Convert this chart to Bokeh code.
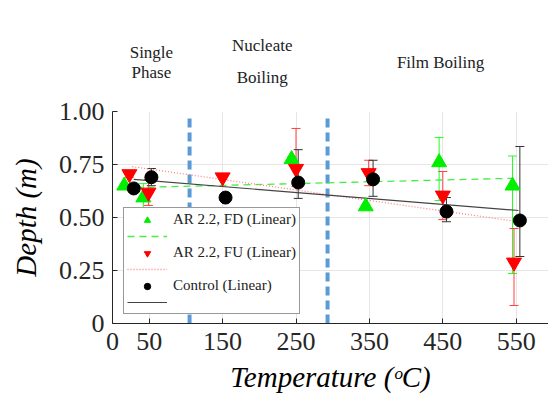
from bokeh.plotting import figure
from bokeh.layouts import column
from bokeh.models import (Range1d, FixedTicker, Whisker, TeeHead, ColumnDataSource,
                          Legend, LegendItem)
from bokeh.core.properties import value
from bokeh.embed import file_html
from bokeh.resources import INLINE

# ---------------- data ----------------
fd_t = [16, 42, 244, 345, 445, 545]
fd_d = [0.65, 0.594, 0.775, 0.552, 0.76, 0.65]
fd_lo = [0.64, 0.52, 0.765, 0.545, 0.58, 0.236]
fd_hi = [0.66, 0.66, 0.785, 0.56, 0.877, 0.79]

fu_t = [23, 49, 150, 250, 349, 450, 547]
fu_d = [0.705, 0.618, 0.69, 0.73, 0.71, 0.604, 0.288]
fu_lo = [0.69, 0.557, 0.68, 0.646, 0.65, 0.49, 0.085]
fu_hi = [0.72, 0.68, 0.70, 0.92, 0.77, 0.717, 0.448]

ctrl_t = [29, 53, 154, 253, 355, 455, 555]
ctrl_d = [0.637, 0.69, 0.594, 0.665, 0.68, 0.528, 0.486]
ctrl_lo = [0.63, 0.65, 0.59, 0.59, 0.60, 0.48, 0.316]
ctrl_hi = [0.645, 0.731, 0.60, 0.82, 0.77, 0.594, 0.835]

fd_fit_t = [15, 545]
fd_fit_d = [0.64, 0.685]
fu_fit_t = [27, 553]
fu_fit_d = [0.74, 0.48]
ctrl_fit_t = [29, 553]
ctrl_fit_d = [0.68, 0.533]

regime_bounds = [105, 293]
regime_top = 0.98

x_ticks = [0, 50, 150, 250, 350, 450, 550]
y_ticks = [0, 0.25, 0.5, 0.75, 1.0]
y_tick_labels = ["0", "0.25", "0.50", "0.75", "1.00"]

regime_text = ["Single", "Phase", "Nucleate", "Boiling", "Film Boiling"]
regime_x = [53, 53, 204, 204, 447]
regime_y = [44, 24, 51, 19, 34]

SERIF = "Liberation Serif"
GREEN = "#00ee00"
RED = "#ff0000"
BLUE = "#5b9bd5"

TOP_H = 96

p = figure(width=548, height=405 - TOP_H, output_backend="svg", toolbar_location=None,
           x_range=Range1d(0, 594), y_range=Range1d(0, 1.0),
           min_border_left=112, min_border_right=0, min_border_top=111 - TOP_H,
           min_border_bottom=82)
p.outline_line_color = None
p.background_fill_color = "white"

# axes
p.xaxis.ticker = FixedTicker(ticks=x_ticks)
p.yaxis.ticker = FixedTicker(ticks=y_ticks)
p.yaxis.major_label_overrides = {t: l for t, l in zip(y_ticks, y_tick_labels)}
for ax in (p.xaxis[0], p.yaxis[0]):
    ax.major_label_text_font = SERIF
    ax.major_label_text_font_size = "26px"
    ax.major_label_text_color = "#262626"
    ax.axis_label_text_font = SERIF
    ax.axis_label_text_font_style = "italic"
    ax.axis_label_text_color = "black"
    ax.major_tick_in = 5
    ax.major_tick_out = 0
    ax.minor_tick_line_color = None
    ax.axis_line_color = "#262626"
    ax.major_tick_line_color = "#262626"
p.xaxis.axis_label = "Temperature (ᵒC)"
p.yaxis.axis_label = "Depth (m)"
p.xaxis.axis_label_text_font_size = "29px"
p.yaxis.axis_label_text_font_size = "29px"
p.xaxis.major_label_standoff = 9
p.yaxis.major_label_standoff = 8
p.xaxis.axis_label_standoff = 8
p.yaxis.axis_label_standoff = 14
p.grid.grid_line_color = "#e6e6e6"
p.grid.grid_line_width = 1

# regime boundaries
for xb in regime_bounds:
    p.line([xb, xb], [0, regime_top], line_color=BLUE, line_width=4, line_dash="9 5")

# error bars
def add_err(t, lo, hi, color):
    src = ColumnDataSource(dict(x=t, lo=lo, hi=hi))
    w = Whisker(base="x", lower="lo", upper="hi", source=src, dimension="height",
                line_color=color, line_width=1,
                upper_head=TeeHead(size=9, line_color=color, line_width=1),
                lower_head=TeeHead(size=9, line_color=color, line_width=1))
    p.add_layout(w)

add_err(fd_t, fd_lo, fd_hi, "#22ff22")
add_err(fu_t, fu_lo, fu_hi, "#ff4040")
add_err(ctrl_t, ctrl_lo, ctrl_hi, "#333333")

# fit lines
l_fd = p.line(fd_fit_t, fd_fit_d, line_color="#44ee44", line_width=1.3, line_dash="7 5")
l_fu = p.line(fu_fit_t, fu_fit_d, line_color="#ff8080", line_width=1.3, line_dash="1 2")
l_ct = p.line(ctrl_fit_t, ctrl_fit_d, line_color="#444444", line_width=1.2)

# markers
s_fd = p.scatter(fd_t, fd_d, marker="triangle", size=15, fill_color=GREEN, line_color=GREEN)
s_fu = p.scatter(fu_t, fu_d, marker="inverted_triangle", size=15, fill_color=RED, line_color=RED)
s_ct = p.scatter(ctrl_t, ctrl_d, marker="circle", size=13, fill_color="black", line_color="black")

legend = Legend(items=[
    LegendItem(label="AR 2.2, FD (Linear)", renderers=[s_fd]),
    LegendItem(label=" ", renderers=[l_fd]),
    LegendItem(label="AR 2.2, FU (Linear)", renderers=[s_fu]),
    LegendItem(label=" ", renderers=[l_fu]),
    LegendItem(label="Control (Linear)", renderers=[s_ct]),
    LegendItem(label=" ", renderers=[l_ct]),
], location=(11, 9))
legend.label_text_font = SERIF
legend.label_text_font_size = "15px"
legend.label_text_color = "#222222"
legend.glyph_width = 40
legend.glyph_height = 16
legend.label_height = 16
legend.spacing = 0
legend.padding = 3
legend.margin = 0
legend.label_standoff = 6
legend.border_line_color = "#333333"
legend.border_line_width = 1
legend.background_fill_alpha = 1.0
p.add_layout(legend)

# header strip with regime names, sharing the temperature scale
top = figure(width=548, height=TOP_H, output_backend="svg", toolbar_location=None,
             x_range=p.x_range, y_range=Range1d(0, TOP_H),
             x_axis_type=None, y_axis_type=None,
             min_border_left=112, min_border_right=0, min_border_top=0, min_border_bottom=0)
top.outline_line_color = None
top.grid.visible = False
top.text(x=regime_x, y=regime_y, text=regime_text, text_align="center",
         text_baseline="middle", text_font=value(SERIF), text_font_size="17px",
         text_color="#222222")

layout = column(top, p, spacing=0)
open("out.html", "w").write(file_html(layout, INLINE))
